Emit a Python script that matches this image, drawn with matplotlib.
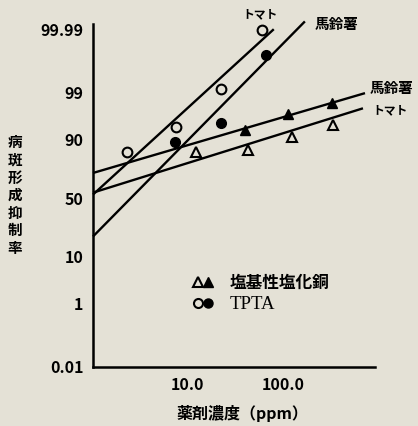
import math

import numpy as np
import matplotlib
matplotlib.use('Agg')
import matplotlib.pyplot as plt
from matplotlib.lines import Line2D
from matplotlib.legend_handler import HandlerTuple

plt.rcParams['font.family'] = ['Noto Sans CJK JP', 'DejaVu Sans']

# measured points (concentration ppm, inhibition %)
tpta_tomato_x = [2.3, 7.4, 22.0, 60.0]
tpta_tomato_y = [84.7, 94.0, 99.2, 99.989]
tpta_potato_x = [7.3, 22.0, 67.0]
tpta_potato_y = [89.1, 95.1, 99.92]
cu_tomato_x = [12.0, 43.0, 123.0, 340.0]
cu_tomato_y = [84.7, 85.7, 91.0, 94.7]
cu_potato_x = [40.0, 113.0, 328.0]
cu_potato_y = [93.4, 96.8, 98.2]

# fitted regression lines (end points)
tpta_tomato_line_x = [1.0, 80.0]
tpta_tomato_line_y = [53.1, 99.990]
tpta_potato_line_x = [1.0, 170.0]
tpta_potato_line_y = [19.9, 99.995]
cu_potato_line_x = [1.0, 730.0]
cu_potato_line_y = [71.0, 98.96]
cu_tomato_line_x = [1.0, 695.0]
cu_tomato_line_y = [54.8, 97.6]

y_ticks = [0.01, 1, 10, 50, 90, 99, 99.99]
y_tick_labels = ['0.01', '1', '10', '50', '90', '99', '99.99']
x_ticks = [10, 100]
x_tick_labels = ['10.0', '100.0']

BG = '#e4e1d6'

# probit scale (Acklam's approximation of the normal quantile)
A = [-3.969683028665376e+01, 2.209460984245205e+02, -2.759285104469687e+02,
     1.383577518672690e+02, -3.066479806614716e+01, 2.506628277459239e+00]
B = [-5.447609879822406e+01, 1.615858368580409e+02, -1.556989798598866e+02,
     6.680131188771972e+01, -1.328068155288572e+01]
C = [-7.784894002430293e-03, -3.223964580411365e-01, -2.400758277161838e+00,
     -2.549732539343734e+00, 4.374664141464968e+00, 2.938163982698783e+00]
D = [7.784695709041462e-03, 3.224671290700398e-01, 2.445134137142996e+00,
     3.754408361507476e+00]


def _tail(q):
    num = ((((C[0]*q + C[1])*q + C[2])*q + C[3])*q + C[4])*q + C[5]
    den = (((D[0]*q + D[1])*q + D[2])*q + D[3])*q + 1
    return num / den


def probit(pct):
    p = np.clip(np.asarray(pct, dtype=float) / 100.0, 1e-12, 1 - 1e-12)
    q = p - 0.5
    r = q * q
    central = (((((A[0]*r + A[1])*r + A[2])*r + A[3])*r + A[4])*r + A[5]) * q / \
              (((((B[0]*r + B[1])*r + B[2])*r + B[3])*r + B[4])*r + 1)
    low = _tail(np.sqrt(-2 * np.log(p)))
    high = -_tail(np.sqrt(-2 * np.log(1 - p)))
    return np.where(p < 0.02425, low, np.where(p > 1 - 0.02425, high, central))


def inv_probit(z):
    z = np.asarray(z, dtype=float)
    return 50.0 * (1 + np.vectorize(math.erf)(z / math.sqrt(2)))


fig = plt.figure(figsize=(4.18, 4.26), dpi=100, facecolor=BG)
ax = fig.add_axes([0.2225, 0.1385, 0.6746, 0.8052], facecolor=BG)

ax.set_xscale('log')
ax.set_yscale('function', functions=(probit, inv_probit))
ax.set_xlim(1, 930)
ax.set_ylim(0.01, 99.9937)

for lx, ly in [(tpta_tomato_line_x, tpta_tomato_line_y),
               (tpta_potato_line_x, tpta_potato_line_y),
               (cu_potato_line_x, cu_potato_line_y),
               (cu_tomato_line_x, cu_tomato_line_y)]:
    ax.plot(lx, ly, color='black', lw=1.7, clip_on=False, solid_capstyle='butt')

ax.plot(tpta_tomato_x, tpta_tomato_y, 'o', ms=7, mfc=BG, mec='black', mew=1.5, clip_on=False)
ax.plot(tpta_potato_x, tpta_potato_y, 'o', ms=7, mfc='black', mec='black', clip_on=False)
ax.plot(cu_tomato_x, cu_tomato_y, '^', ms=7.5, mfc=BG, mec='black', mew=1.5, clip_on=False)
ax.plot(cu_potato_x, cu_potato_y, '^', ms=7.5, mfc='black', mec='black', clip_on=False)

ax.set_yticks(y_ticks)
ax.set_yticklabels(y_tick_labels)
ax.set_xticks(x_ticks)
ax.set_xticklabels(x_tick_labels)
ax.minorticks_off()
ax.tick_params(length=0, labelsize=11.5, pad=7)
for lab in ax.get_xticklabels() + ax.get_yticklabels():
    lab.set_fontweight('bold')

for s in ['top', 'right']:
    ax.spines[s].set_visible(False)
for s in ['left', 'bottom']:
    ax.spines[s].set_linewidth(1.8)

# axis titles
fig.text(15 / 418, 1 - 195 / 426, '\n'.join('病斑形成抑制率'), ha='center', va='center',
         fontsize=10.5, fontweight='bold', linespacing=1.12)
fig.text(242 / 418, 1 - 413 / 426, '薬剤濃度（ppm）', ha='center', va='center',
         fontsize=11.5, fontweight='bold')

# line labels
fig.text(260 / 418, 1 - 15 / 426, 'トマト', ha='center', va='center', fontsize=8.5, fontweight='bold')
fig.text(337 / 418, 1 - 24 / 426, '馬鈴薯', ha='center', va='center', fontsize=10.5, fontweight='bold')
fig.text(370 / 418, 1 - 88 / 426, '馬鈴薯', ha='left', va='center', fontsize=10.5, fontweight='bold')
fig.text(372 / 418, 1 - 111 / 426, 'トマト', ha='left', va='center', fontsize=8.5, fontweight='bold')

# legend
h_cu = (Line2D([], [], ls='', marker='^', ms=7, mfc=BG, mec='black', mew=1.5),
        Line2D([], [], ls='', marker='^', ms=7, mfc='black', mec='black'))
h_tp = (Line2D([], [], ls='', marker='o', ms=6.5, mfc=BG, mec='black', mew=1.5),
        Line2D([], [], ls='', marker='o', ms=6.5, mfc='black', mec='black'))
leg = fig.legend([h_cu, h_tp], ['塩基性塩化銅', 'TPTA'],
                 handler_map={tuple: HandlerTuple(ndivide=None, pad=0.1)},
                 loc='center left', bbox_to_anchor=(193 / 418, 1 - 293 / 426),
                 frameon=False, fontsize=12, handlelength=1.2, handletextpad=1.0,
                 labelspacing=0.25, borderpad=0, borderaxespad=0)
texts = leg.get_texts()
texts[0].set_fontweight('bold')
texts[1].set_fontfamily(['Liberation Serif'])
texts[1].set_fontsize(13.5)

fig.savefig('out.png', dpi=100, facecolor=BG)
